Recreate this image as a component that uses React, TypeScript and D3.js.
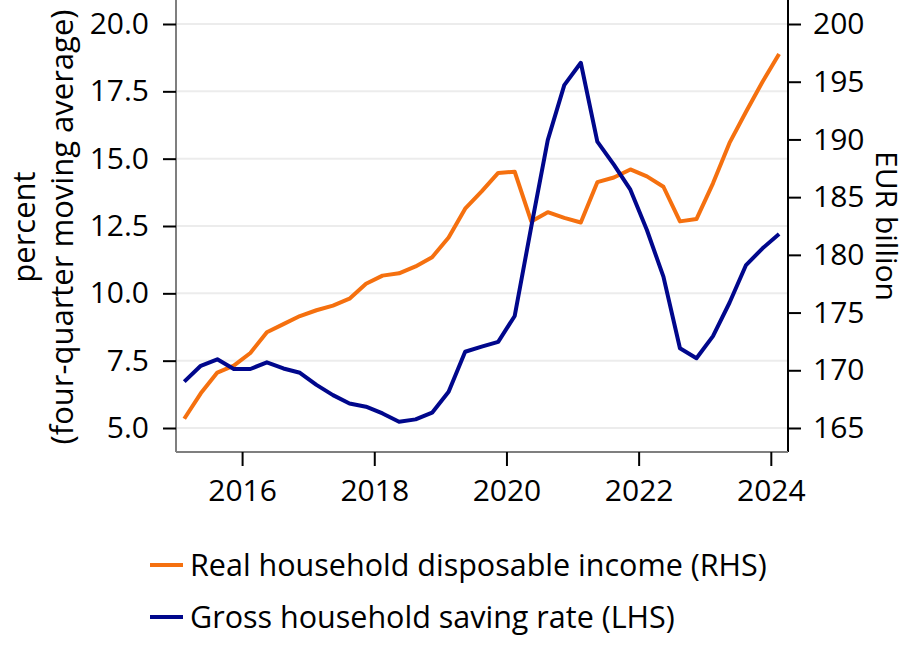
import React, { useEffect, useRef } from 'react';
import * as d3 from 'd3';

// quarterly observations, 2015Q1 - 2024Q1
const quarters = [
  "2015Q1", "2015Q2", "2015Q3", "2015Q4",
  "2016Q1", "2016Q2", "2016Q3", "2016Q4",
  "2017Q1", "2017Q2", "2017Q3", "2017Q4",
  "2018Q1", "2018Q2", "2018Q3", "2018Q4",
  "2019Q1", "2019Q2", "2019Q3", "2019Q4",
  "2020Q1", "2020Q2", "2020Q3", "2020Q4",
  "2021Q1", "2021Q2", "2021Q3", "2021Q4",
  "2022Q1", "2022Q2", "2022Q3", "2022Q4",
  "2023Q1", "2023Q2", "2023Q3", "2023Q4",
  "2024Q1",
];

// Real household disposable income, EUR billion (RHS)
const income = [
  165.8, 168.0, 169.8, 170.4, 171.5, 173.3, 174.0, 174.7,
  175.2, 175.6, 176.2, 177.5, 178.2, 178.4, 179.0, 179.8,
  181.5, 184.0, 185.5, 187.1, 187.2, 182.9, 183.7, 183.2,
  182.8, 186.3, 186.7, 187.4, 186.8, 185.9, 182.9, 183.1,
  186.2, 189.7, 192.4, 195.0, 197.4,
];

// Gross household saving rate, percent (LHS)
const savingRate = [
  6.72, 7.31, 7.55, 7.19, 7.19, 7.44, 7.21, 7.05,
  6.60, 6.22, 5.91, 5.79, 5.54, 5.23, 5.32, 5.57,
  6.35, 7.83, 8.02, 8.20, 9.16, 12.47, 15.69, 17.73,
  18.56, 15.63, 14.78, 13.85, 12.35, 10.62, 7.96, 7.59,
  8.41, 9.65, 11.05, 11.67, 12.20,
];

const leftTicks = [5.0, 7.5, 10.0, 12.5, 15.0, 17.5, 20.0];
const rightTicks = [165, 170, 175, 180, 185, 190, 195, 200];
const yearTicks = [2016, 2018, 2020, 2022, 2024];

const legendItems = [
  { label: "Real household disposable income (RHS)", color: "#f5700f" },
  { label: "Gross household saving rate (LHS)", color: "#00078c" },
];

const FONT = "'Open Sans', sans-serif";

// mid-quarter position as a fractional year
const quarterToYear = (q: string) => {
  const year = +q.slice(0, 4);
  const qn = +q.slice(5);
  return year + (qn - 1) * 0.25 + 0.125;
};

const App: React.FC = () => {
  const svgRef = useRef<SVGSVGElement>(null);

  useEffect(() => {
    if (!svgRef.current) return;
    document.body.style.margin = "0";

    const width = 914;
    const height = 649;
    const left = 176, right = 788, top = 0, bottom = 452;

    const svg = d3.select(svgRef.current);
    svg.selectAll("*").remove();
    svg.attr("width", width).attr("height", height).style("display", "block")
      .style("font-family", FONT);

    const x = d3.scaleLinear().domain([2015.0, 2024.26]).range([left, right]);
    const yL = d3.scaleLinear().domain([4.109, 20.891]).range([bottom, top]);
    const yR = d3.scaleLinear().domain([162.92, 202.08]).range([bottom, top]);

    // gridlines
    svg.append("g")
      .selectAll("line")
      .data(leftTicks)
      .join("line")
      .attr("x1", left).attr("x2", right)
      .attr("y1", d => yL(d)).attr("y2", d => yL(d))
      .attr("stroke", "#ececec")
      .attr("stroke-width", 2);

    // series
    const pts = quarters.map(quarterToYear);
    const incomeLine = d3.line<number>()
      .x((_, i) => x(pts[i]))
      .y(d => yR(d));
    const savingLine = d3.line<number>()
      .x((_, i) => x(pts[i]))
      .y(d => yL(d));

    svg.append("path")
      .attr("d", incomeLine(income) || "")
      .attr("fill", "none")
      .attr("stroke", legendItems[0].color)
      .attr("stroke-width", 4)
      .attr("stroke-linejoin", "round");

    svg.append("path")
      .attr("d", savingLine(savingRate) || "")
      .attr("fill", "none")
      .attr("stroke", legendItems[1].color)
      .attr("stroke-width", 4)
      .attr("stroke-linejoin", "round");

    // axes
    const tickFont = 30;
    const leftAxis = svg.append("g").attr("transform", `translate(${left},0)`)
      .call(d3.axisLeft(yL).tickValues(leftTicks).tickFormat(d3.format(".1f")).tickSize(13).tickPadding(14));
    leftAxis.select(".domain").attr("stroke", "#7f7f7f").attr("stroke-width", 2)
      .attr("d", `M0,${top}V${bottom}`);

    const rightAxis = svg.append("g").attr("transform", `translate(${right},0)`)
      .call(d3.axisRight(yR).tickValues(rightTicks).tickFormat(d3.format("d")).tickSize(13).tickPadding(12));
    rightAxis.select(".domain").attr("stroke", "#000").attr("stroke-width", 2)
      .attr("d", `M0,${top}V${bottom}`);

    const bottomAxis = svg.append("g").attr("transform", `translate(0,${bottom})`)
      .call(d3.axisBottom(x).tickValues(yearTicks).tickFormat(d3.format("d")).tickSize(14).tickPadding(14));
    bottomAxis.select(".domain").attr("stroke", "#7f7f7f").attr("stroke-width", 2)
      .attr("d", `M${left},0H${right}`);

    svg.selectAll(".tick line").attr("stroke", "#000").attr("stroke-width", 2);
    svg.selectAll(".tick text")
      .attr("fill", "#000")
      .style("font-size", `${tickFont}px`)
      .style("font-family", FONT);

    // axis titles
    const leftTitle = svg.append("text")
      .attr("transform", `translate(35,227) rotate(-90)`)
      .attr("text-anchor", "middle")
      .style("font-size", "31px")
      .attr("fill", "#000");
    leftTitle.append("tspan").attr("x", 0).attr("y", 0).text("percent");
    leftTitle.append("tspan").attr("x", 0).attr("y", 38).text("(four-quarter moving average)");

    svg.append("text")
      .attr("transform", `translate(876,226) rotate(90)`)
      .attr("text-anchor", "middle")
      .style("font-size", "30px")
      .attr("fill", "#000")
      .text("EUR billion");

    // legend
    const legend = svg.append("g");
    legendItems.forEach((item, i) => {
      const cy = 565 + i * 52;
      legend.append("line")
        .attr("x1", 150).attr("x2", 183)
        .attr("y1", cy).attr("y2", cy)
        .attr("stroke", item.color)
        .attr("stroke-width", 4);
      legend.append("text")
        .attr("x", 190)
        .attr("y", cy)
        .attr("dy", "0.35em")
        .style("font-size", "30.5px")
        .attr("fill", "#000")
        .text(item.label);
    });
  }, []);

  return <svg ref={svgRef}></svg>;
};

export default App;
